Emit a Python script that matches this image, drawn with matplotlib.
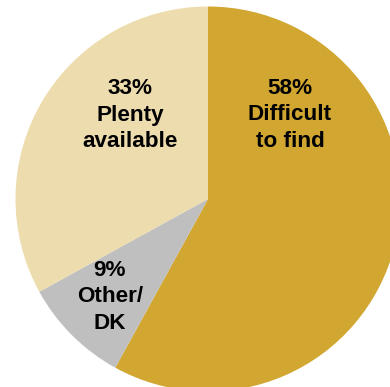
import matplotlib
matplotlib.use("Agg")
import matplotlib.pyplot as plt

labels = ["58%\nDifficult\nto find", "9%\nOther/\nDK", "33%\nPlenty\navailable"]
values = [58, 9, 33]
colors = ["#D1A631", "#BFBFBF", "#EDDCAD"]

W, H = 390, 387
cx, cy, R = 208, 199, 192.5

fig = plt.figure(figsize=(W / 100, H / 100), dpi=100)
ax = fig.add_axes([0, 0, 1, 1])
ax.pie(values, colors=colors, startangle=90, counterclock=False,
       radius=1.0, wedgeprops=dict(linewidth=0))
ax.set_aspect("auto")
ax.set_xlim(-cx / R, (W - cx) / R)
ax.set_ylim(-(H - cy) / R, cy / R)
ax.axis("off")

def px(x, y):
    return (x - cx) / R, (cy - y) / R

label_px = [(290, 115), (110, 297), (130, 115)]
for lab, (x, y) in zip(labels, label_px):
    dx, dy = px(x, y)
    ax.text(dx, dy, lab, ha="center", va="center", fontsize=16.2,
            fontweight="bold", family="Liberation Sans", linespacing=1.32,
            color="#000000")

fig.savefig("out.png", dpi=100, facecolor="white")
